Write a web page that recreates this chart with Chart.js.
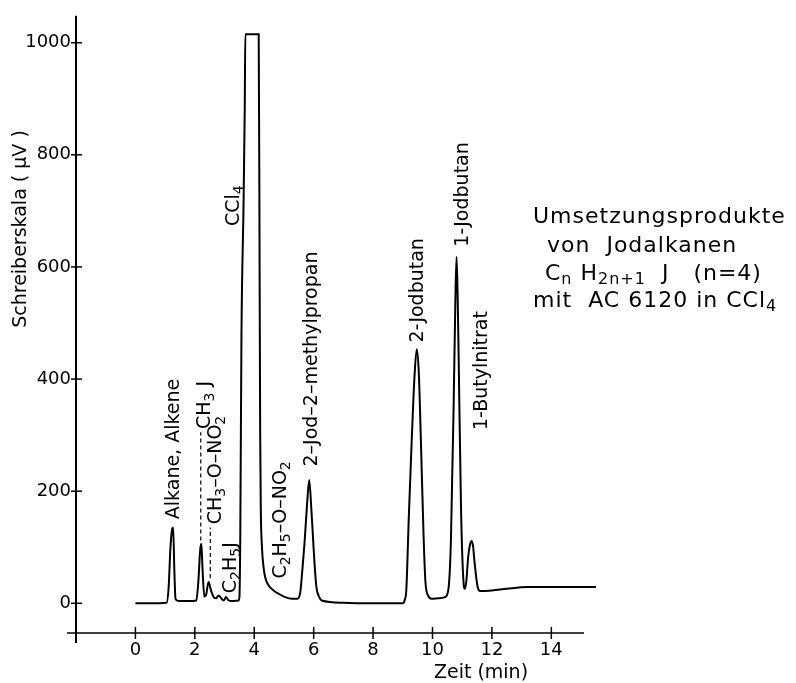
<!DOCTYPE html>
<html>
<head>
<meta charset="utf-8">
<script src="https://cdn.jsdelivr.net/npm/chart.js@4.4.1/dist/chart.umd.min.js"></script>
<style>
  html, body { margin: 0; padding: 0; background: #fff; }
  #wrap { width: 796px; height: 683px; }
</style>
</head>
<body>
<div id="wrap"><canvas id="chrom"></canvas></div>
<script>
// Gaschromatogramm - Umsetzungsprodukte von Jodalkanen (n=4)

// Zeit (min)
const zeit = [
  0, 0.5, 1.05, 1.12, 1.18, 1.24, 1.27, 1.31, 1.35, 1.45,
  1.8, 2.05, 2.12, 2.18, 2.22, 2.26, 2.32, 2.38, 2.46, 2.55,
  2.65, 2.72, 2.8, 2.9, 2.97, 3.05, 3.12, 3.25, 3.47, 3.5,
  3.53, 3.57, 3.64, 3.68, 3.7, 4.15, 4.18, 4.2, 4.22, 4.26,
  4.31, 4.37, 4.48, 4.65, 4.82, 5.04, 5.27, 5.45, 5.55, 5.62,
  5.69, 5.77, 5.85, 5.92, 5.99, 6.05, 6.1, 6.18, 6.27, 7.0,
  8.0, 9.0, 9.06, 9.12, 9.2, 9.3, 9.4, 9.47, 9.54, 9.62,
  9.7, 9.76, 9.85, 9.97, 10.2, 10.42, 10.53, 10.58, 10.62, 10.71,
  10.77, 10.81, 10.85, 10.89, 10.96, 11.04, 11.09, 11.14, 11.2, 11.26,
  11.32, 11.37, 11.41, 11.52, 11.6, 12.0, 12.5, 13.2, 14.0, 15.5
];
// Schreiberskala (µV)
const signal = [
  0, 0, 1, 30, 100, 133, 135, 60, 8, 4,
  4, 5, 40, 95, 106, 60, 12, 15, 38, 22,
  10, 9, 14, 8, 5, 11, 6, 4, 5, 10,
  120, 480, 712, 883, 1015, 1015, 600, 300, 170, 100,
  66, 46, 32, 23, 17, 11, 8, 8, 20, 60,
  106, 170, 220, 170, 106, 55, 26, 12, 5, 1,
  0, 0, 5, 25, 150, 290, 410, 453, 410, 270,
  120, 40, 14, 8, 9, 11, 23, 55, 111, 347,
  540, 618, 540, 406, 170, 41, 26, 40, 82, 104,
  111, 100, 76, 29, 22, 23, 26, 29, 29, 29
];

const xTicks = [0, 2, 4, 6, 8, 10, 12, 14];
const yTicks = [0, 200, 400, 600, 800, 1000];

// Peak-Beschriftungen, {x}=Subskript; x = Spaltenmitte (min), y = Textanfang (µV)
const peakText = ["Alkane, Alkene", "CH{3} J", "CH{3}–O–NO{2}", "C{2}H{5}J", "CCl{4}",
  "C{2}H{5}–O–NO{2}", "2–Jod–2–methylpropan", "2-Jodbutan", "1-Jodbutan", "1-Butylnitrat"];
const peakX = [1.24, 2.29, 2.66, 3.16, 3.26, 4.84, 5.88, 9.45, 10.96, 11.6];
const peakY = [150, 311, 141, 18, 673, 44, 244, 465, 636, 309];

// gestrichelte Hinweislinien: x, von y0 bis y1
const leaderX = [2.2, 2.52];
const leaderY0 = [112, 45];
const leaderY1 = [305, 135];

const FONT = "'DejaVu Sans', 'Liberation Sans', sans-serif";

function drawRich(ctx, str, x, y, size, rotate) {
  ctx.save();
  ctx.translate(x, y);
  if (rotate) ctx.rotate(-Math.PI / 2);
  ctx.textBaseline = "alphabetic";
  ctx.textAlign = "left";
  let pos = 0;
  str.split(/[{}]/).forEach((p, i) => {
    if (!p) return;
    const sub = i % 2 === 1;
    ctx.font = (sub ? Math.round(size * 0.72) : size) + "px " + FONT;
    ctx.fillText(p, pos, sub ? size * 0.2 : 0);
    pos += ctx.measureText(p).width;
  });
  ctx.restore();
}

const beschriftung = {
  id: "beschriftung",
  afterDraw(chart) {
    const ctx = chart.ctx;
    const xs = chart.scales.x;
    const ys = chart.scales.y;
    const area = chart.chartArea;
    ctx.save();
    ctx.strokeStyle = "#000";
    ctx.fillStyle = "#000";

    // Achsen (kreuzen sich leicht)
    const ax = xs.getPixelForValue(-2);
    const ay = ys.getPixelForValue(-53);
    ctx.lineWidth = 2;
    ctx.beginPath();
    ctx.moveTo(ax, area.top);
    ctx.lineTo(ax, ay + 10);
    ctx.stroke();
    ctx.lineWidth = 1.5;
    ctx.beginPath();
    ctx.moveTo(ax - 9, ay);
    ctx.lineTo(area.right, ay);
    ctx.stroke();

    // Teilstriche
    yTicks.forEach(v => {
      const py = ys.getPixelForValue(v);
      ctx.beginPath();
      ctx.moveTo(ax - 5, py);
      ctx.lineTo(ax + 6, py);
      ctx.stroke();
    });
    xTicks.forEach(v => {
      const px = xs.getPixelForValue(v);
      ctx.beginPath();
      ctx.moveTo(px, ay - 6);
      ctx.lineTo(px, ay + 6);
      ctx.stroke();
    });

    // Achsentitel
    ctx.font = "19px " + FONT;
    ctx.textAlign = "center";
    ctx.textBaseline = "middle";
    ctx.save();
    ctx.translate(21, 229);
    ctx.rotate(-Math.PI / 2);
    ctx.fillText("Schreiberskala ( μV )", 0, 0);
    ctx.restore();
    ctx.textBaseline = "alphabetic";
    ctx.fillText("Zeit (min)", 481, 678);

    // Peak-Beschriftungen
    const size = 19;
    peakText.forEach((t, i) => {
      const px = xs.getPixelForValue(peakX[i]) + size * 0.36;
      const py = ys.getPixelForValue(peakY[i]);
      drawRich(ctx, t, px, py, size, true);
    });

    // Hinweislinien
    ctx.lineWidth = 1.2;
    ctx.setLineDash([4, 3]);
    leaderX.forEach((v, i) => {
      const px = xs.getPixelForValue(v);
      ctx.beginPath();
      ctx.moveTo(px, ys.getPixelForValue(leaderY0[i]));
      ctx.lineTo(px, ys.getPixelForValue(leaderY1[i]));
      ctx.stroke();
    });
    ctx.setLineDash([]);

    // Textblock rechts
    ctx.letterSpacing = "1px";
    drawRich(ctx, "Umsetzungsprodukte", 533, 223, 22, false);
    drawRich(ctx, "von  Jodalkanen", 547, 252, 22, false);
    drawRich(ctx, "C{n} H{2n+1}  J   (n=4)", 545, 280, 22, false);
    drawRich(ctx, "mit  AC 6120 in CCl{4}", 533, 307, 22, false);
    ctx.letterSpacing = "0px";
    ctx.restore();
  }
};

const tickFont = { family: FONT, size: 18 };

new Chart(document.getElementById("chrom"), {
  type: "line",
  data: {
    datasets: [{
      data: zeit.map((t, i) => ({ x: t, y: signal[i] })),
      borderColor: "#000",
      borderWidth: 2,
      pointRadius: 0,
      cubicInterpolationMode: "monotone",
      fill: false,
      clip: false
    }]
  },
  options: {
    responsive: true,
    maintainAspectRatio: false,
    animation: false,
    layout: { padding: { top: 10, right: 212, left: 0, bottom: 0 } },
    plugins: { legend: { display: false }, tooltip: { enabled: false } },
    scales: {
      x: {
        type: "linear",
        min: -2,
        max: 15.1,
        afterBuildTicks: s => { s.ticks = xTicks.map(v => ({ value: v })); },
        afterFit: s => { s.height = 50; },
        grid: { display: false, drawTicks: false },
        border: { display: false },
        ticks: { padding: 7, color: "#000", font: tickFont, maxRotation: 0, autoSkip: false,
          callback: v => String(v) }
      },
      y: {
        type: "linear",
        min: -53,
        max: 1048,
        afterBuildTicks: s => { s.ticks = yTicks.map(v => ({ value: v })); },
        afterFit: s => { s.width = 76; },
        grid: { display: false, drawTicks: false },
        border: { display: false },
        ticks: { padding: 5, color: "#000", font: tickFont, autoSkip: false,
          callback: v => String(v) }
      }
    }
  },
  plugins: [beschriftung]
});
</script>
</body>
</html>
